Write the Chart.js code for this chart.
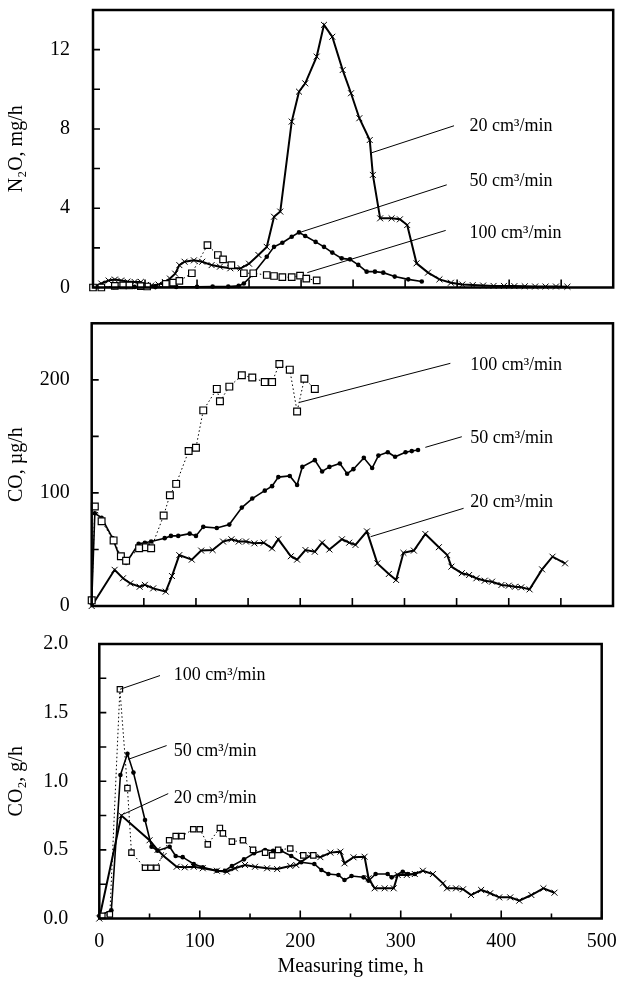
<!DOCTYPE html>
<html>
<head>
<meta charset="utf-8">
<script src="https://cdn.jsdelivr.net/npm/chart.js@4.4.1/dist/chart.umd.min.js"></script>
<style>
  html, body { margin: 0; padding: 0; background: #fff; }
  #wrap { position: relative; width: 619px; height: 983px; }
  canvas { position: absolute; left: 0; }
</style>
</head>
<body>
<div id="wrap">
  <canvas id="n2o" width="619" height="300" style="top:0"></canvas>
  <canvas id="co" width="619" height="320" style="top:300px"></canvas>
  <canvas id="co2" width="619" height="363" style="top:620px"></canvas>
</div>
<script>
// N2O, mg/h
const n2o20Time = [0, 8, 15, 21, 27, 33, 40, 46, 51, 56, 63, 69, 74, 79, 83, 88, 97, 105, 114, 122, 132, 142, 150, 159, 167, 174, 180, 191, 198, 204, 215, 222, 230, 240, 248, 256, 266, 269, 276, 287, 295, 302, 311, 322, 333, 344, 355, 365, 375, 385, 395, 405, 415, 425, 435, 445, 456];
const n2o20Value = [0, 0.2, 0.35, 0.4, 0.35, 0.3, 0.28, 0.28, 0.13, 0.1, 0.15, 0.28, 0.45, 0.7, 1.13, 1.3, 1.37, 1.3, 1.13, 1.05, 0.97, 0.97, 1.2, 1.64, 2.05, 3.57, 3.83, 8.37, 9.88, 10.3, 11.65, 13.25, 12.65, 10.97, 9.8, 8.54, 7.44, 5.68, 3.49, 3.49, 3.44, 3.15, 1.22, 0.75, 0.41, 0.24, 0.15, 0.12, 0.1, 0.08, 0.08, 0.07, 0.06, 0.05, 0.05, 0.05, 0.04];
const n2o50Time = [0, 20, 40, 60, 80, 100, 115, 130, 140, 145, 153, 167, 174, 182, 191, 198, 204, 214, 222, 230, 239, 247, 255, 263, 271, 279, 290, 303, 316];
const n2o50Value = [0, 0.02, 0.03, 0.02, 0.03, 0.04, 0.05, 0.05, 0.08, 0.2, 0.63, 1.55, 2.05, 2.26, 2.56, 2.78, 2.6, 2.3, 2.05, 1.76, 1.47, 1.42, 1.14, 0.8, 0.8, 0.75, 0.55, 0.41, 0.3];
const n2o100Time = [0, 8, 21, 29, 35, 46, 52, 70, 77, 83, 95, 110, 120, 125, 133, 145, 154, 167, 174, 182, 191, 199, 205, 215];
const n2o100Value = [0, 0, 0.08, 0.1, 0.1, 0.07, 0.05, 0.18, 0.25, 0.33, 0.72, 2.14, 1.64, 1.42, 1.13, 0.72, 0.72, 0.63, 0.58, 0.52, 0.52, 0.6, 0.45, 0.36];

// CO, µg/h
const co20Time = [0, 22, 30, 37, 46, 51, 59, 71, 77, 84, 96, 105, 116, 126, 134, 141, 148, 156, 165, 173, 179, 191, 197, 205, 214, 221, 228, 240, 247, 253, 264, 274, 285, 292, 299, 309, 320, 333, 341, 345, 355, 362, 369, 377, 384, 393, 400, 406, 412, 420, 432, 442, 454];
const co20Value = [0, 32, 24.5, 20, 17, 18.7, 15.6, 12.7, 26.5, 45, 41, 49, 49.5, 57, 59, 57, 57, 55.4, 56, 51, 59, 44, 41, 49.5, 48, 56, 50, 59, 56, 54, 66, 37.7, 28.3, 23, 47, 49, 63.7, 52, 45, 34.8, 29, 27.4, 24.5, 22.4, 21.5, 18.6, 18, 17, 16.5, 14.7, 32.4, 43.6, 37.7];
const co50Time = [0, 3, 9.5, 20, 27, 33, 45, 51, 57, 70, 76, 83, 94, 100, 107, 120, 132, 144, 154, 166, 173, 179, 190, 197, 202, 214, 221, 228, 238, 245, 251, 261, 269, 275, 284, 291, 301, 307, 313];
const co50Value = [3, 82, 78, 60, 43, 38, 55, 56, 57, 60, 62, 62, 64, 62, 70, 69, 72, 87, 95, 102, 106, 114, 115, 107, 123, 129, 119, 123, 126, 117, 121, 131, 122, 133, 136, 132, 136, 137, 138];
const co100Time = [0, 3, 9.5, 21, 28, 33, 45.5, 52, 57, 69, 75, 81, 93, 100, 107, 120, 123, 132, 144, 154, 166, 173, 180, 190, 197, 204, 214];
const co100Value = [5, 88, 75, 58, 44, 40, 51, 52, 51, 80, 98, 108, 137, 140, 173, 192, 181, 194, 204, 202, 198, 198, 214, 209, 172, 201, 192];

// CO2, g/h
const co2_20Time = [0, 22, 50, 58, 64, 77, 85, 94, 103, 117, 127, 135, 145, 155, 167, 177, 190, 196, 211, 220, 230, 240, 244, 253, 264, 268, 274, 284, 293, 297, 306, 314, 322, 332, 342, 346, 355, 362, 370, 380, 389, 398, 409, 418, 430, 442, 453];
const co2_20Value = [0, 0.75, 0.57, 0.5, 0.455, 0.377, 0.373, 0.377, 0.366, 0.348, 0.341, 0.366, 0.39, 0.377, 0.366, 0.36, 0.383, 0.39, 0.463, 0.447, 0.48, 0.487, 0.402, 0.446, 0.45, 0.293, 0.22, 0.22, 0.22, 0.317, 0.317, 0.324, 0.348, 0.324, 0.256, 0.22, 0.22, 0.213, 0.171, 0.208, 0.184, 0.154, 0.154, 0.13, 0.171, 0.22, 0.188];
const co2_50Time = [0, 12, 21, 28, 34, 45.5, 52, 58, 70, 76, 83, 94, 103, 117, 125, 132, 144, 154, 165, 173, 181, 191, 201, 214, 221, 228, 238, 244, 251, 263, 268, 275, 287, 291, 302, 307, 314];
const co2_50Value = [0.02, 0.06, 1.045, 1.2, 1.063, 0.718, 0.523, 0.494, 0.523, 0.455, 0.447, 0.397, 0.373, 0.348, 0.348, 0.383, 0.431, 0.475, 0.499, 0.494, 0.494, 0.455, 0.41, 0.397, 0.353, 0.324, 0.317, 0.28, 0.31, 0.3, 0.275, 0.324, 0.324, 0.3, 0.341, 0.324, 0.324];
const co2_100Time = [3, 10.5, 20.5, 28, 32, 45.5, 51, 57, 69.5, 76, 82, 93.5, 100, 108, 120, 123, 132, 143, 153, 165, 172, 178, 190, 203, 213];
const co2_100Value = [0.02, 0.03, 1.67, 0.95, 0.48, 0.37, 0.37, 0.37, 0.57, 0.6, 0.6, 0.65, 0.65, 0.54, 0.66, 0.62, 0.56, 0.57, 0.5, 0.48, 0.46, 0.5, 0.51, 0.46, 0.46];

// callouts: [text, label time, label value, leader start time, value, leader end time, value]
const n2oCallouts = [
  ['20 cm³/min', 362, 8.15, 268, 6.8, 347, 8.16],
  ['50 cm³/min', 362, 5.34, 200, 2.8, 340, 5.18],
  ['100 cm³/min', 362, 2.73, 206, 0.75, 339, 2.88]
];
const coCallouts = [
  ['100 cm³/min', 363, 213, 199, 180, 344, 214.6],
  ['50 cm³/min', 363, 148.3, 320, 140.3, 355, 149.7],
  ['20 cm³/min', 363, 91.3, 267.5, 61.3, 356.7, 86.4]
];
const co2Callouts = [
  ['100 cm³/min', 74, 1.775, 20.6, 1.67, 60.4, 1.77],
  ['50 cm³/min', 74, 1.215, 28.9, 1.16, 67, 1.26],
  ['20 cm³/min', 74, 0.876, 23.9, 0.76, 68.6, 0.91]
];

Chart.defaults.font.family = "'Liberation Serif', 'DejaVu Serif', serif";
Chart.defaults.color = '#000';

function pairs(t, v) {
  return t.map((x, i) => ({ x: x, y: v[i] }));
}

function series(t, v, kind, sq) {
  const base = { data: pairs(t, v), showLine: true, borderColor: '#000', clip: 8 };
  if (kind === 20) {
    return Object.assign(base, { borderWidth: 2, pointStyle: 'crossRot', pointRadius: 4.2,
      pointBorderWidth: 1, pointBorderColor: '#000', pointBackgroundColor: '#000' });
  }
  if (kind === 50) {
    return Object.assign(base, { borderWidth: 1.6, pointStyle: 'circle', pointRadius: 2.3,
      pointBorderWidth: 0, pointBackgroundColor: '#000' });
  }
  return Object.assign(base, { borderWidth: 1, borderDash: [1.5, 2.5], pointStyle: 'rect',
    pointRadius: sq, pointBorderWidth: 1.2, pointBorderColor: '#000', pointBackgroundColor: '#fff' });
}

// frame, inward ticks and callout labels
const panelDeco = {
  id: 'panelDeco',
  afterDatasetsDraw(chart, args, opts) {
    const ctx = chart.ctx;
    const a = chart.chartArea;
    const xs = chart.scales.x, ys = chart.scales.y;
    ctx.save();
    ctx.strokeStyle = '#000';
    ctx.lineWidth = 1.6;
    ctx.setLineDash([]);
    ctx.beginPath();
    ys.ticks.forEach(t => {
      const y = ys.getPixelForValue(t.value);
      ctx.moveTo(a.left, y);
      ctx.lineTo(a.left + 7, y);
    });
    xs.ticks.forEach(t => {
      const x = xs.getPixelForValue(t.value);
      const len = (opts.longMajor && t.value % 100 !== 0) ? 5 : 8;
      ctx.moveTo(x, a.bottom);
      ctx.lineTo(x, a.bottom - len);
    });
    ctx.stroke();

    ctx.lineWidth = 2.5;
    ctx.strokeRect(a.left, a.top, a.right - a.left, a.bottom - a.top);

    ctx.lineWidth = 1;
    ctx.font = "18px 'Liberation Serif', 'DejaVu Serif', serif";
    ctx.fillStyle = '#000';
    ctx.textBaseline = 'middle';
    ctx.textAlign = 'left';
    opts.callouts.forEach(c => {
      ctx.beginPath();
      ctx.moveTo(xs.getPixelForValue(c[3]), ys.getPixelForValue(c[4]));
      ctx.lineTo(xs.getPixelForValue(c[5]), ys.getPixelForValue(c[6]));
      ctx.stroke();
      ctx.fillText(c[0], xs.getPixelForValue(c[1]), ys.getPixelForValue(c[2]));
    });
    ctx.restore();
  }
};

function makePanel(id, datasets, o) {
  return new Chart(document.getElementById(id), {
    type: 'scatter',
    data: { datasets: datasets },
    options: {
      responsive: false,
      animation: false,
      devicePixelRatio: 1,
      layout: { padding: { top: o.padTop, right: o.padRight, left: 0, bottom: 0 } },
      elements: { line: { tension: 0 } },
      plugins: {
        legend: { display: false },
        tooltip: { enabled: false },
        panelDeco: { callouts: o.callouts, longMajor: o.showX }
      },
      scales: {
        x: {
          type: 'linear', min: 0, max: 500,
          grid: { display: false },
          border: { display: false },
          ticks: {
            display: o.showX, stepSize: 50, autoSkip: false, maxRotation: 0, padding: 3,
            font: { size: 20 },
            callback: v => (v % 100 === 0 ? String(v) : '')
          },
          title: { display: o.showX, text: 'Measuring time, h', font: { size: 20 }, padding: { top: 4, bottom: 4 } },
          afterFit: s => {
            s.height = o.xHeight;
            s.paddingLeft = 0; s.paddingRight = 0; s.paddingTop = 0; s.paddingBottom = 0;
          }
        },
        y: {
          type: 'linear', min: o.yMin, max: o.yMax,
          grid: { display: false },
          border: { display: false },
          ticks: {
            stepSize: o.yStep, autoSkip: false, padding: o.yPad,
            font: { size: 20 },
            callback: o.yLabel
          },
          title: { display: true, text: o.yTitle, font: { size: 20 }, padding: { top: 5, bottom: 0 } },
          afterFit: s => {
            s.width = o.yWidth;
            s.paddingLeft = 0; s.paddingRight = 0; s.paddingTop = 0; s.paddingBottom = 0;
          }
        }
      }
    },
    plugins: [panelDeco]
  });
}

makePanel('n2o', [
  series(n2o100Time, n2o100Value, 100, 4.6),
  series(n2o50Time, n2o50Value, 50),
  series(n2o20Time, n2o20Value, 20)
], {
  padTop: 10, padRight: 3, yWidth: 93, xHeight: 12.5, showX: false,
  yMin: 0, yMax: 14, yStep: 2, yPad: 15, yTitle: 'N₂O, mg/h',
  yLabel: v => (v % 4 === 0 && v < 14 ? String(v) : ''),
  callouts: n2oCallouts
});

makePanel('co', [
  series(co100Time, co100Value, 100, 4.8),
  series(co50Time, co50Value, 50),
  series(co20Time, co20Value, 20)
], {
  padTop: 23.3, padRight: 4, yWidth: 91.7, xHeight: 14, showX: false,
  yMin: 0, yMax: 250, yStep: 50, yPad: 14, yTitle: 'CO, µg/h',
  yLabel: v => (v % 100 === 0 ? String(v) : ''),
  callouts: coCallouts
});

makePanel('co2', [
  series(co2_100Time, co2_100Value, 100, 3.8),
  series(co2_50Time, co2_50Value, 50),
  series(co2_20Time, co2_20Value, 20)
], {
  padTop: 24, padRight: 17.3, yWidth: 99.3, xHeight: 64.5, showX: true,
  yMin: 0, yMax: 2, yStep: 0.25, yPad: 23, yTitle: 'CO₂, g/h',
  yLabel: v => (Math.abs(v * 2 - Math.round(v * 2)) < 1e-9 ? v.toFixed(1) : ''),
  callouts: co2Callouts
});
</script>
</body>
</html>
